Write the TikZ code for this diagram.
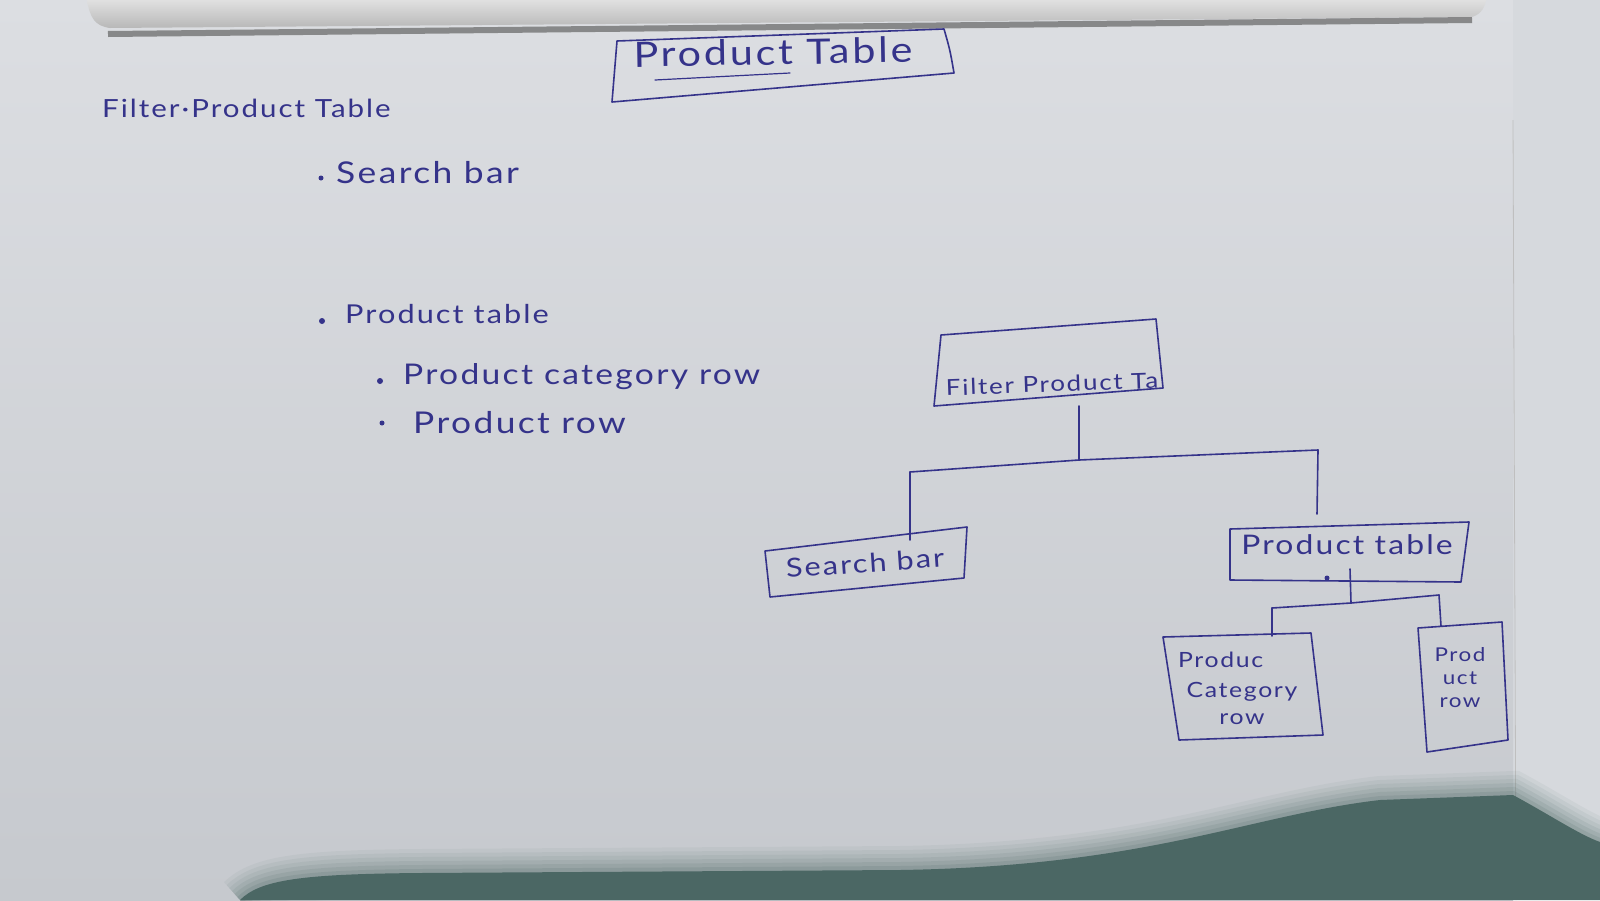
\documentclass[tikz,border=0pt]{standalone}
\usepackage{fontspec}
\setmainfont{Lato}
\newfontfamily\hand[LetterSpace=8, FakeStretch=1.18]{Lato}
\definecolor{inkc}{HTML}{35338A}
\definecolor{paperA}{HTML}{DCDEE2}
\definecolor{paperB}{HTML}{C6C9CE}
\definecolor{deskc}{HTML}{D6D9DD}
\definecolor{shadowc}{HTML}{4B6764}
\begin{document}
\begin{tikzpicture}[x=1pt,y=-1pt,
  ink/.style={draw=inkc, line width=1.6pt, line join=round, line cap=round},
  txt/.style={text=inkc, inner sep=0pt, font=\hand\fontsize{#1}{#1}\selectfont},
  txt/.default=24,
  dotmark/.style={fill=inkc, circle, inner sep=0pt, minimum size=6pt}]

\useasboundingbox (0,0) rectangle (1600,900);

% paper and desk
\fill[deskc] (0,0) rectangle (1600,900);
\shade[top color=paperA, bottom color=paperB] (0,0) rectangle (1513,900);
\draw[line width=0.8pt, black!25] (1513,120) -- (1516,900);

% the sheet folded over at the top
\shade[top color=white!88!black, bottom color=white!72!black]
  (87,0) .. controls (90,18) and (95,26) .. (110,28) -- (1472,17)
  .. controls (1482,14) and (1485,6) .. (1486,0) -- cycle;
\draw[line width=6pt, black!55, opacity=0.8] (108,34) -- (1472,20);

% soft shadow over the lower edge
\begin{scope}
  \def\shadowedge{(240,900) .. controls (260,880) and (300,874) .. (420,873)
    -- (900,870) .. controls (1150,866) and (1250,815) .. (1380,800)
    -- (1513,795) .. controls (1550,815) and (1580,835) .. (1600,842)}
  \foreach \w/\o in {48/0.06,40/0.07,32/0.08,24/0.1,16/0.12,8/0.15}
    \draw[shadowc, line width=\w pt, opacity=\o] \shadowedge;
  \fill[shadowc] \shadowedge -- (1600,900) -- cycle;
\end{scope}

% ---------- heading ----------
\coordinate (hTL) at (617,41);  \coordinate (hTR) at (944,29);
\coordinate (hBR) at (954,73);  \coordinate (hBL) at (612,102);
\draw[ink] (hTL) -- (hTR) .. controls (950,50) .. (hBR) -- (hBL) -- cycle;
\node[txt=35, rotate=1] (head) at (773,52) {Product Table};
\draw[ink, line width=1.2pt] (655,80) -- (790,73);

% ---------- outline list ----------
\node[txt=25, anchor=west] (lfilter) at (102,108) {Filter·Product Table};
\node[dotmark, minimum size=5pt] (b1) at (321,178) {};
\node[txt=30, anchor=west] (lsearch) at (336,173) {Search bar};
\node[dotmark] (b2) at (322,321) {};
\node[txt=26, anchor=west] (ltable) at (345,314) {Product table};
\node[dotmark] (b3) at (380,381) {};
\node[txt=28.5, anchor=west] (lcat) at (403,377) {Product category row};
\node[dotmark, minimum size=5pt] (b4) at (382,423) {};
\node[txt=30, anchor=west] (lrow) at (413,423) {Product row};

% ---------- component tree ----------
% Filter Product Table
\coordinate (fTL) at (941,335); \coordinate (fTR) at (1156,319);
\coordinate (fBR) at (1163,388); \coordinate (fBL) at (934,406);
\draw[ink] (fTL) -- (fTR) -- (fBR) -- (fBL) -- cycle;
\node[txt=22, anchor=south west, rotate=2] (filter) at (946,396) {Filter Product Ta};

% Search bar
\coordinate (sTL) at (765,551); \coordinate (sTR) at (967,527);
\coordinate (sBR) at (964,578); \coordinate (sBL) at (770,597);
\draw[ink] (sTL) -- (sTR) -- (sBR) -- (sBL) -- cycle;
\node[txt=26, rotate=4] (search) at (865,563) {Search bar};

% Product table
\coordinate (pTL) at (1230,529); \coordinate (pTR) at (1469,522);
\coordinate (pBR) at (1461,582); \coordinate (pBL) at (1230,580);
\draw[ink] (pTL) -- (pTR) -- (pBR) -- (pBL) -- cycle;
\node[txt=27] (ptable) at (1347,545) {Product table};
\node[dotmark, minimum size=5pt] (pdot) at (1327,578) {};

% Product category row
\coordinate (cTL) at (1163,637); \coordinate (cTR) at (1311,633);
\coordinate (cBR) at (1323,735); \coordinate (cBL) at (1179,740);
\draw[ink] (cTL) -- (cTR) -- (cBR) -- (cBL) -- cycle;
\node[txt=21, align=center] (pcat) at (1242,688)
  {\makebox[128pt][l]{Produc}\\[9pt]Category\\[6pt]row};

% Product row
\coordinate (rTL) at (1418,628); \coordinate (rTR) at (1502,622);
\coordinate (rBR) at (1508,740); \coordinate (rBL) at (1427,752);
\draw[ink] (rTL) -- (rTR) -- (rBR) -- (rBL) -- cycle;
\node[txt=19, align=center] (prow) at (1460,678) {Prod\\[4pt]uct\\[4pt]row};

% connectors: filter -> search bar, product table
\coordinate (fOut) at (1079,406);
\coordinate (fJoin) at (1079,460);
\coordinate (busL) at (910,472);
\coordinate (busR) at (1318,450);
\coordinate (sIn) at (910,540);
\coordinate (pIn) at (1317,514);
\draw[ink] (fOut) -- (fJoin);
\draw[ink] (busL) -- (fJoin) -- (busR);
\draw[ink] (busL) -- (sIn);
\draw[ink] (busR) -- (pIn);

% connectors: product table -> category row, product row
\coordinate (pOut) at (1350,569);
\coordinate (pJoin) at (1351,603);
\coordinate (bus2L) at (1272,608);
\coordinate (bus2R) at (1439,595);
\coordinate (cIn) at (1272,636);
\coordinate (rIn) at (1441,626);
\draw[ink] (pOut) -- (pJoin);
\draw[ink] (bus2L) -- (pJoin) -- (bus2R);
\draw[ink] (bus2L) -- (cIn);
\draw[ink] (bus2R) -- (rIn);
\end{tikzpicture}
\end{document}
